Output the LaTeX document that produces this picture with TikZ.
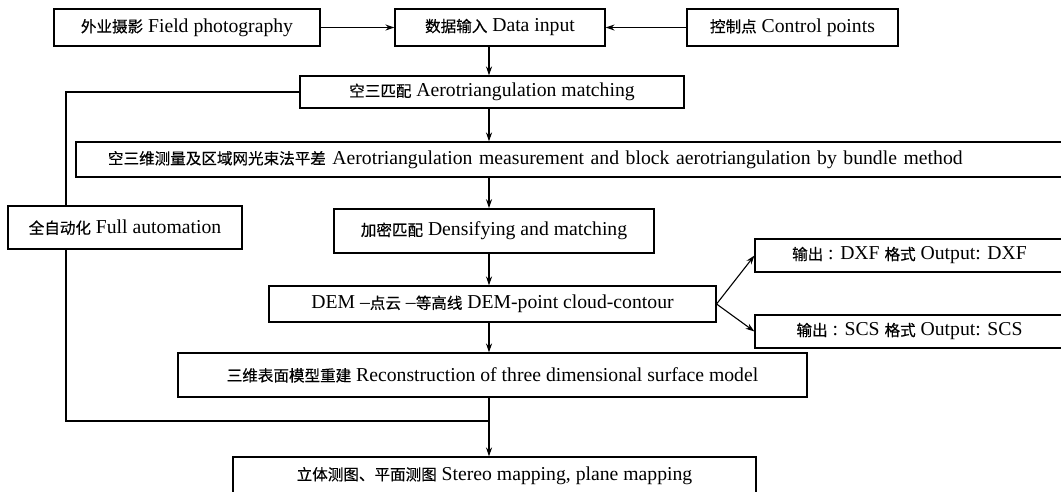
\documentclass[tikz,border=0pt]{standalone}
\usepackage{fontspec}
\setmainfont{Liberation Serif}
\newfontfamily\cjk[Scale=0.79,FakeBold=0.4]{Noto Sans CJK SC}
\usetikzlibrary{arrows.meta,positioning}

\begin{document}
\begin{tikzpicture}[x=1pt,y=-1pt,>={Stealth[length=9pt,width=6pt]},line width=1.1pt,
    box/.style={draw,fill=white,inner sep=0pt,font=\fontsize{19.7}{23}\selectfont},
    thick box/.style={box,line width=1.6pt}]

    \useasboundingbox (0,0) rectangle (1061,491);

    % input row
    \node[box,minimum width=266,minimum height=37] (field)   at (187,27.5)  {{\cjk 外业摄影} Field photography};
    \node[box,minimum width=210,minimum height=37] (input)   at (500,27.5)  {{\cjk 数据输入} Data input};
    \node[box,minimum width=211,minimum height=37] (control) at (792.5,27.5){{\cjk 控制点} Control points};

    % main chain
    \node[box,minimum width=384,minimum height=32] (match) at (492,92) {{\cjk 空三匹配} Aerotriangulation matching};
    \node[box,minimum width=988,minimum height=35,text width=924,inner xsep=32,align=left] (measure) at (570,159.5)
        {{\cjk 空三维测量及区域网光束法平差} Aerotriangulation measurement and block aerotriangulation by bundle method};
    \node[box,minimum width=234,minimum height=43] (auto) at (125,227.5) {{\cjk 全自动化} Full automation};
    \node[thick box,minimum width=320,minimum height=44] (dense) at (494,231) {{\cjk 加密匹配} Densifying and matching};
    \node[box,minimum width=447,minimum height=36] (dem) at (492.5,304) {DEM –{\cjk 点云} –{\cjk 等高线} DEM-point cloud-contour};
    \node[box,minimum width=309,minimum height=33] (dxf) at (909.5,255.5) {{\cjk 输出} : DXF {\cjk 格式} Output: DXF};
    \node[box,minimum width=309,minimum height=33] (scs) at (909.5,331.5) {{\cjk 输出} : SCS {\cjk 格式} Output: SCS};
    \node[box,minimum width=629,minimum height=44] (recon) at (492.5,375) {{\cjk 三维表面模型重建} Reconstruction of three dimensional surface model};
    \node[box,minimum width=523,minimum height=37] (stereo) at (494.5,475.5) {{\cjk 立体测图、平面测图} Stereo mapping, plane mapping};

    \coordinate (axis) at (489,0);
    \coordinate (loop) at (66,0);
    \coordinate (join) at (489,421);

    \draw[->] (field) -- (input);
    \draw[->] (control) -- (input);
    \draw[->] (input.south -| axis) -- (match.north -| axis);
    \draw[->] (match.south -| axis) -- (measure.north -| axis);
    \draw[->] (measure.south -| axis) -- (dense.north -| axis);
    \draw[->] (dense.south -| axis) -- (dem.north -| axis);
    \draw[->] (dem.south -| axis) -- (recon.north -| axis);
    \draw[->] (dem.east) -- (dxf.west);
    \draw[->] (dem.east) -- (scs.west);

    % automation loop round the left side
    \draw (match.west) -| (auto.north -| loop);
    \draw (auto.south -| loop) |- (join);
    \draw[->] (recon.south -| axis) -- (stereo.north -| axis);
\end{tikzpicture}
\end{document}
